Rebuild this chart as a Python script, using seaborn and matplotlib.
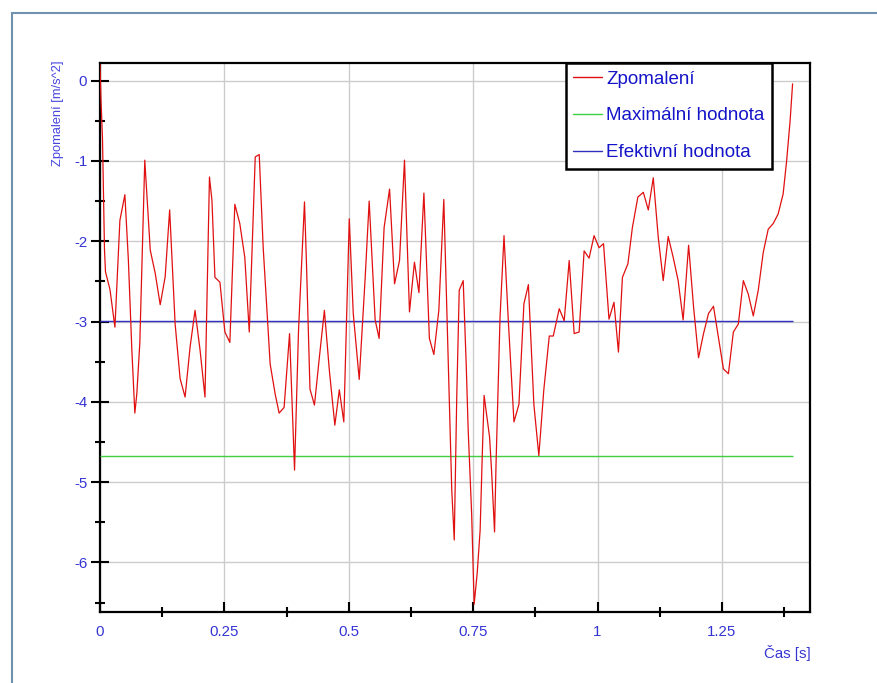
import numpy as np
import pandas as pd
import matplotlib
matplotlib.use("Agg")
import matplotlib.pyplot as plt
import seaborn as sns
from matplotlib.ticker import MultipleLocator, FuncFormatter
from matplotlib.lines import Line2D
from matplotlib.patches import Rectangle

# ---- data ----
time_s = [0.000, 0.002, 0.005, 0.009, 0.011, 0.020, 0.030, 0.040, 0.050, 0.057,
          0.064, 0.070, 0.074, 0.080, 0.090, 0.101, 0.111, 0.121, 0.131, 0.140,
          0.151, 0.161, 0.171, 0.181, 0.191, 0.201, 0.211, 0.220, 0.225, 0.231,
          0.241, 0.251, 0.261, 0.271, 0.281, 0.291, 0.300, 0.312, 0.320, 0.328,
          0.342, 0.352, 0.360, 0.370, 0.381, 0.391, 0.399, 0.411, 0.415, 0.422,
          0.431, 0.441, 0.451, 0.461, 0.472, 0.481, 0.490, 0.501, 0.509, 0.521,
          0.533, 0.541, 0.553, 0.561, 0.571, 0.582, 0.592, 0.602, 0.612, 0.622,
          0.632, 0.641, 0.651, 0.662, 0.671, 0.681, 0.691, 0.700, 0.707, 0.712,
          0.717, 0.722, 0.730, 0.736, 0.740, 0.747, 0.752, 0.758, 0.764, 0.768,
          0.772, 0.783, 0.787, 0.793, 0.796, 0.804, 0.812, 0.821, 0.832, 0.842,
          0.852, 0.861, 0.872, 0.882, 0.892, 0.903, 0.911, 0.923, 0.933, 0.943,
          0.953, 0.963, 0.973, 0.983, 0.993, 1.003, 1.012, 1.023, 1.033, 1.042,
          1.050, 1.061, 1.070, 1.081, 1.092, 1.102, 1.112, 1.122, 1.132, 1.142,
          1.152, 1.162, 1.172, 1.183, 1.193, 1.203, 1.213, 1.223, 1.233, 1.243,
          1.253, 1.263, 1.273, 1.283, 1.293, 1.303, 1.313, 1.323, 1.333, 1.343,
          1.353, 1.363, 1.373, 1.380, 1.387, 1.392]
decel = [0.20, -0.24, -0.72, -2.10, -2.38, -2.60, -3.07, -1.74, -1.42, -2.23,
         -3.35, -4.14, -3.90, -3.27, -0.99, -2.11, -2.40, -2.79, -2.44, -1.61,
         -3.03, -3.71, -3.94, -3.32, -2.86, -3.35, -3.94, -1.20, -1.49, -2.45,
         -2.51, -3.13, -3.26, -1.54, -1.78, -2.20, -3.13, -0.95, -0.92, -2.08,
         -3.53, -3.90, -4.14, -4.07, -3.15, -4.85, -3.11, -1.51, -2.28, -3.84,
         -4.04, -3.44, -2.86, -3.61, -4.29, -3.85, -4.25, -1.72, -2.90, -3.72,
         -2.45, -1.50, -2.98, -3.21, -1.83, -1.35, -2.53, -2.24, -0.99, -2.88,
         -2.26, -2.64, -1.40, -3.21, -3.41, -2.86, -1.48, -3.53, -5.10, -5.72,
         -3.94, -2.61, -2.49, -3.53, -4.35, -5.40, -6.52, -6.14, -5.60, -4.73,
         -3.92, -4.44, -4.86, -5.62, -4.77, -2.95, -1.93, -3.03, -4.25, -4.03,
         -2.78, -2.54, -4.03, -4.67, -3.85, -3.18, -3.18, -2.84, -2.99, -2.24,
         -3.15, -3.13, -2.12, -2.21, -1.93, -2.08, -2.03, -2.97, -2.76, -3.38,
         -2.45, -2.28, -1.83, -1.45, -1.39, -1.61, -1.21, -1.95, -2.49, -1.94,
         -2.20, -2.49, -2.98, -2.05, -2.82, -3.45, -3.15, -2.90, -2.81, -3.20,
         -3.59, -3.65, -3.13, -3.03, -2.49, -2.66, -2.93, -2.61, -2.14, -1.85,
         -1.78, -1.66, -1.41, -1.00, -0.50, -0.04]
max_value = -4.67
eff_value = -2.99
series_names = ["Zpomalení", "Maximální hodnota", "Efektivní hodnota"]
x_label = "Čas [s]"
y_label = "Zpomalení [m/s^2]"

# ---- style ----
sns.set_style("white")
plt.rcParams['font.family'] = ['Liberation Sans', 'DejaVu Sans']
plt.rcParams['axes.unicode_minus'] = False

RED = "#e01010"
GREEN = "#40d040"
BLUE = "#3030c0"
TICK_BLUE = "#3434d4"
LEG_BLUE = "#1414c8"
LAB_BLUE = "#4646e0"

W, H = 878, 683
fig = plt.figure(figsize=(W / 100, H / 100), dpi=100)
ax = fig.add_axes([100 / W, (H - 612) / H, 710 / W, 549 / H])

df = pd.DataFrame({"t": time_s, "a": decel})
sns.lineplot(data=df, x="t", y="a", ax=ax, color=RED, lw=0.9,
             estimator=None, sort=False, zorder=4, legend=False)
ax.hlines(max_value, time_s[0], time_s[-1], color=GREEN, lw=1.0, zorder=3)
ax.hlines(eff_value, time_s[0], time_s[-1], color=BLUE, lw=1.0, zorder=3)

ax.set_xlim(0, 1.427)
ax.set_ylim(-6.617, 0.22)

ax.xaxis.set_major_locator(MultipleLocator(0.25))
ax.xaxis.set_minor_locator(MultipleLocator(0.125))
ax.yaxis.set_major_locator(MultipleLocator(1))
ax.yaxis.set_minor_locator(MultipleLocator(0.5))
fmt = FuncFormatter(lambda v, p: f"{v:g}")
ax.xaxis.set_major_formatter(fmt)
ax.yaxis.set_major_formatter(fmt)

ax.grid(True, which='major', color='#cccccc', lw=1.0, zorder=0)
ax.set_axisbelow(True)

for s in ax.spines.values():
    s.set_color('black')
    s.set_linewidth(1.6)
    s.set_visible(True)

ax.tick_params(axis='y', which='major', direction='inout', length=12.5, width=1.5,
               color='black', labelcolor=TICK_BLUE, labelsize=10.8, pad=3,
               left=True, labelleft=True)
ax.tick_params(axis='y', which='minor', direction='inout', length=7.2, width=1.5,
               color='black', left=True)
ax.tick_params(axis='x', which='major', direction='in', length=7.2, width=1.5,
               color='black', labelcolor=TICK_BLUE, labelsize=10.8, pad=9,
               bottom=True, labelbottom=True)
ax.tick_params(axis='x', which='minor', direction='inout', length=7.2, width=1.5,
               color='black', bottom=True)

ax.set_xlabel("")
ax.set_ylabel("")
fig.text(811 / W, 1 - 653 / H, x_label, ha='right', va='center',
         fontsize=10.8, color=TICK_BLUE)
fig.text(58 / W, 1 - 61 / H, y_label, rotation=90, ha='center', va='top',
         fontsize=9.3, color=LAB_BLUE)

handles = [Line2D([], [], color=RED, lw=1.0),
           Line2D([], [], color=GREEN, lw=1.0),
           Line2D([], [], color=BLUE, lw=1.0)]
leg = ax.legend(handles, series_names, loc='upper left',
                bbox_to_anchor=(466 / 710, 1.0), borderaxespad=0,
                fontsize=13.5, handlelength=1.5, handletextpad=0.25,
                labelspacing=1.05, borderpad=0.4, frameon=True,
                fancybox=False, framealpha=1, edgecolor='black')
leg.get_frame().set_linewidth(1.8)
for txt in leg.get_texts():
    txt.set_color(LEG_BLUE)
leg.set_zorder(10)

fig.add_artist(Rectangle((12 / W, -0.05), 1.0, 1.05 - 13 / H,
                         transform=fig.transFigure, fill=False,
                         edgecolor='#7090b0', lw=1.5))

fig.savefig("out.png", dpi=100)
